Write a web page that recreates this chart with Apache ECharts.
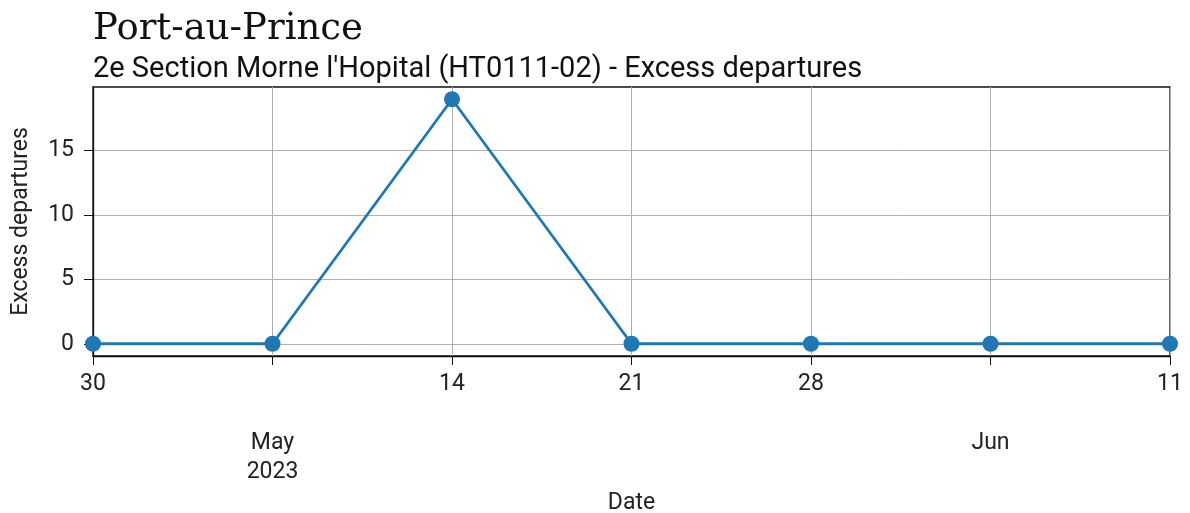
<!DOCTYPE html>
<html><head><meta charset="utf-8">
<script src="https://cdn.jsdelivr.net/npm/echarts@6/dist/echarts.min.js"></script>
<style>html,body{margin:0;padding:0;background:#fff}#c{width:1190px;height:513px}</style>
</head><body><div id="c"></div>
<script>
const dates = ['2023-04-30','2023-05-07','2023-05-14','2023-05-21','2023-05-28','2023-06-04','2023-06-11'];
const values = [0, 0, 19, 0, 0, 0, 0];
const dayLabels = ['30', '', '14', '21', '28', '', '11'];
const monthLabels = ['', 'May\n2023', '', '', '', 'Jun', ''];
const yTicks = [0, 5, 10, 15];

const chart = echarts.init(document.getElementById('c'));
const txt = '#222';
chart.setOption({
  animation: false,
  title: [
    {text: 'Port-au-Prince', left: 88, top: 6, textStyle: {fontFamily: 'DejaVu Serif', fontWeight: 'normal', fontSize: 37, color: '#111'}},
    {text: "2e Section Morne l'Hopital (HT0111-02) - Excess departures", left: 88, top: 50, textStyle: {fontFamily: 'Roboto', fontWeight: 'normal', fontSize: 29, color: '#111'}}
  ],
  grid: {left: 93, right: 20, top: 87, bottom: 157, containLabel: false, outerBoundsMode: 'none', show: true, borderColor: '#111', borderWidth: 1.3},
  xAxis: [{
    type: 'category', data: dates, boundaryGap: false,
    axisLine: {onZero: false, lineStyle: {color: '#111', width: 1.3}},
    axisTick: {length: 9, lineStyle: {color: '#111'}},
    axisLabel: {margin: 17, fontFamily: 'Roboto', fontSize: 23, color: txt, formatter: (v, i) => dayLabels[i]},
    splitLine: {show: true, lineStyle: {color: '#b0b0b0', width: 1}},
    name: 'Date', nameLocation: 'middle', nameGap: 136,
    nameTextStyle: {fontFamily: 'Roboto', fontSize: 23, color: txt}
  }, {
    type: 'category', data: dates, boundaryGap: false, position: 'bottom', gridIndex: 0,
    axisLine: {show: false}, axisTick: {show: false}, splitLine: {show: false},
    axisLabel: {margin: 73, fontFamily: 'Roboto', fontSize: 23, color: txt, lineHeight: 29, interval: 0, formatter: (v, i) => monthLabels[i]}
  }],
  yAxis: {
    type: 'value', min: -0.95, max: 19.95,
    axisLine: {show: true, lineStyle: {color: '#111', width: 1.3}},
    axisTick: {show: true, length: 9, lineStyle: {color: '#111'}, customValues: yTicks},
    axisLabel: {fontFamily: 'Roboto', fontSize: 23, color: txt, margin: 19, customValues: yTicks},
    splitLine: {show: true, lineStyle: {color: '#b0b0b0', width: 1}},
    name: 'Excess departures', nameLocation: 'middle', nameGap: 60,
    nameTextStyle: {fontFamily: 'Roboto', fontSize: 23, color: txt}
  },
  series: [{
    type: 'line', data: values, xAxisIndex: 0,
    symbol: 'circle', symbolSize: 16,
    lineStyle: {color: '#1f77b4', width: 2.8},
    itemStyle: {color: '#1f77b4'}
  }]
});
</script></body></html>
